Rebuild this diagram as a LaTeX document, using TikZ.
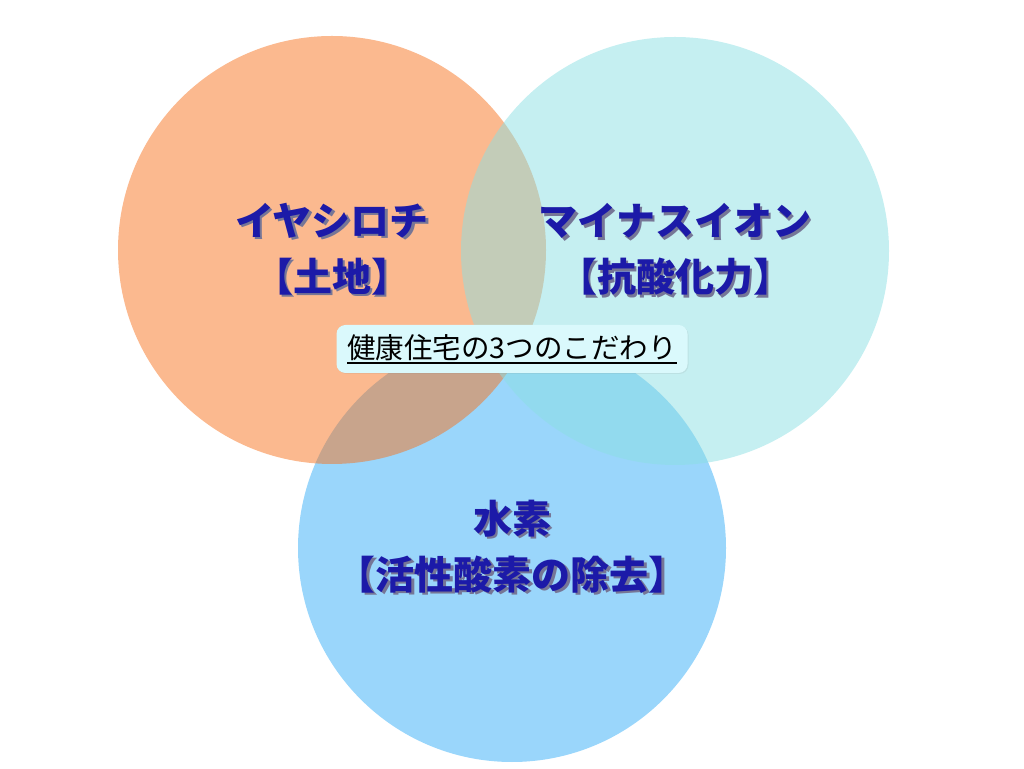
\documentclass[tikz,border=0pt]{standalone}
\usepackage{fontspec}
\usetikzlibrary{shadows}
\newfontfamily\cjk{Noto Sans CJK JP}
\definecolor{tochiorange}{RGB}{247,115,31}
\definecolor{ioncyan}{RGB}{139,223,227}
\definecolor{suisoblue}{RGB}{154,214,251}
\definecolor{titlenavy}{RGB}{28,26,168}
\definecolor{shadowgray}{RGB}{118,118,150}
\definecolor{mottofill}{RGB}{218,249,252}
\newcommand\embossed[1]{\rlap{\kern2.5pt\raisebox{-2.5pt}{\textcolor{shadowgray}{#1}}}#1}
\newcommand\underlined[1]{\setbox0\hbox{#1}\rlap{\raisebox{-5.5pt}{\rule{\wd0}{1.8pt}}}\box0}
\begin{document}
\begin{tikzpicture}[x=1pt,y=1pt,
  ring/.style={circle,minimum size=428pt,inner sep=0pt,align=center,
    font=\cjk\bfseries\fontsize{39}{56}\selectfont,text=titlenavy},
  mottobox/.style={rounded corners=9pt,fill=mottofill,minimum width=351pt,minimum height=48pt,
    font=\cjk\fontsize{28.5}{30}\selectfont,text=black,drop shadow={opacity=0.12,shadow xshift=1pt,shadow yshift=-1pt}}]
\useasboundingbox (0,0) rectangle (1024,768);
% three circles, blue at the bottom of the stack
\node[ring,fill=suisoblue] (suiso) at (512,220) {\embossed{水素}\\\embossed{【活性酸素の除去】}};
\node[ring,fill=tochiorange,fill opacity=0.5,text opacity=1] (tochi) at (332,518) {\embossed{イヤシロチ}\\\embossed{【土地】}};
\node[ring,fill=ioncyan,fill opacity=0.5,text opacity=1] (ion) at (675,517) {\embossed{マイナスイオン}\\\embossed{【抗酸化力】}};
% caption in the middle
\node[mottobox] (motto) at (512,419) {\underlined{健康住宅の3つのこだわり}};
\end{tikzpicture}
\end{document}
